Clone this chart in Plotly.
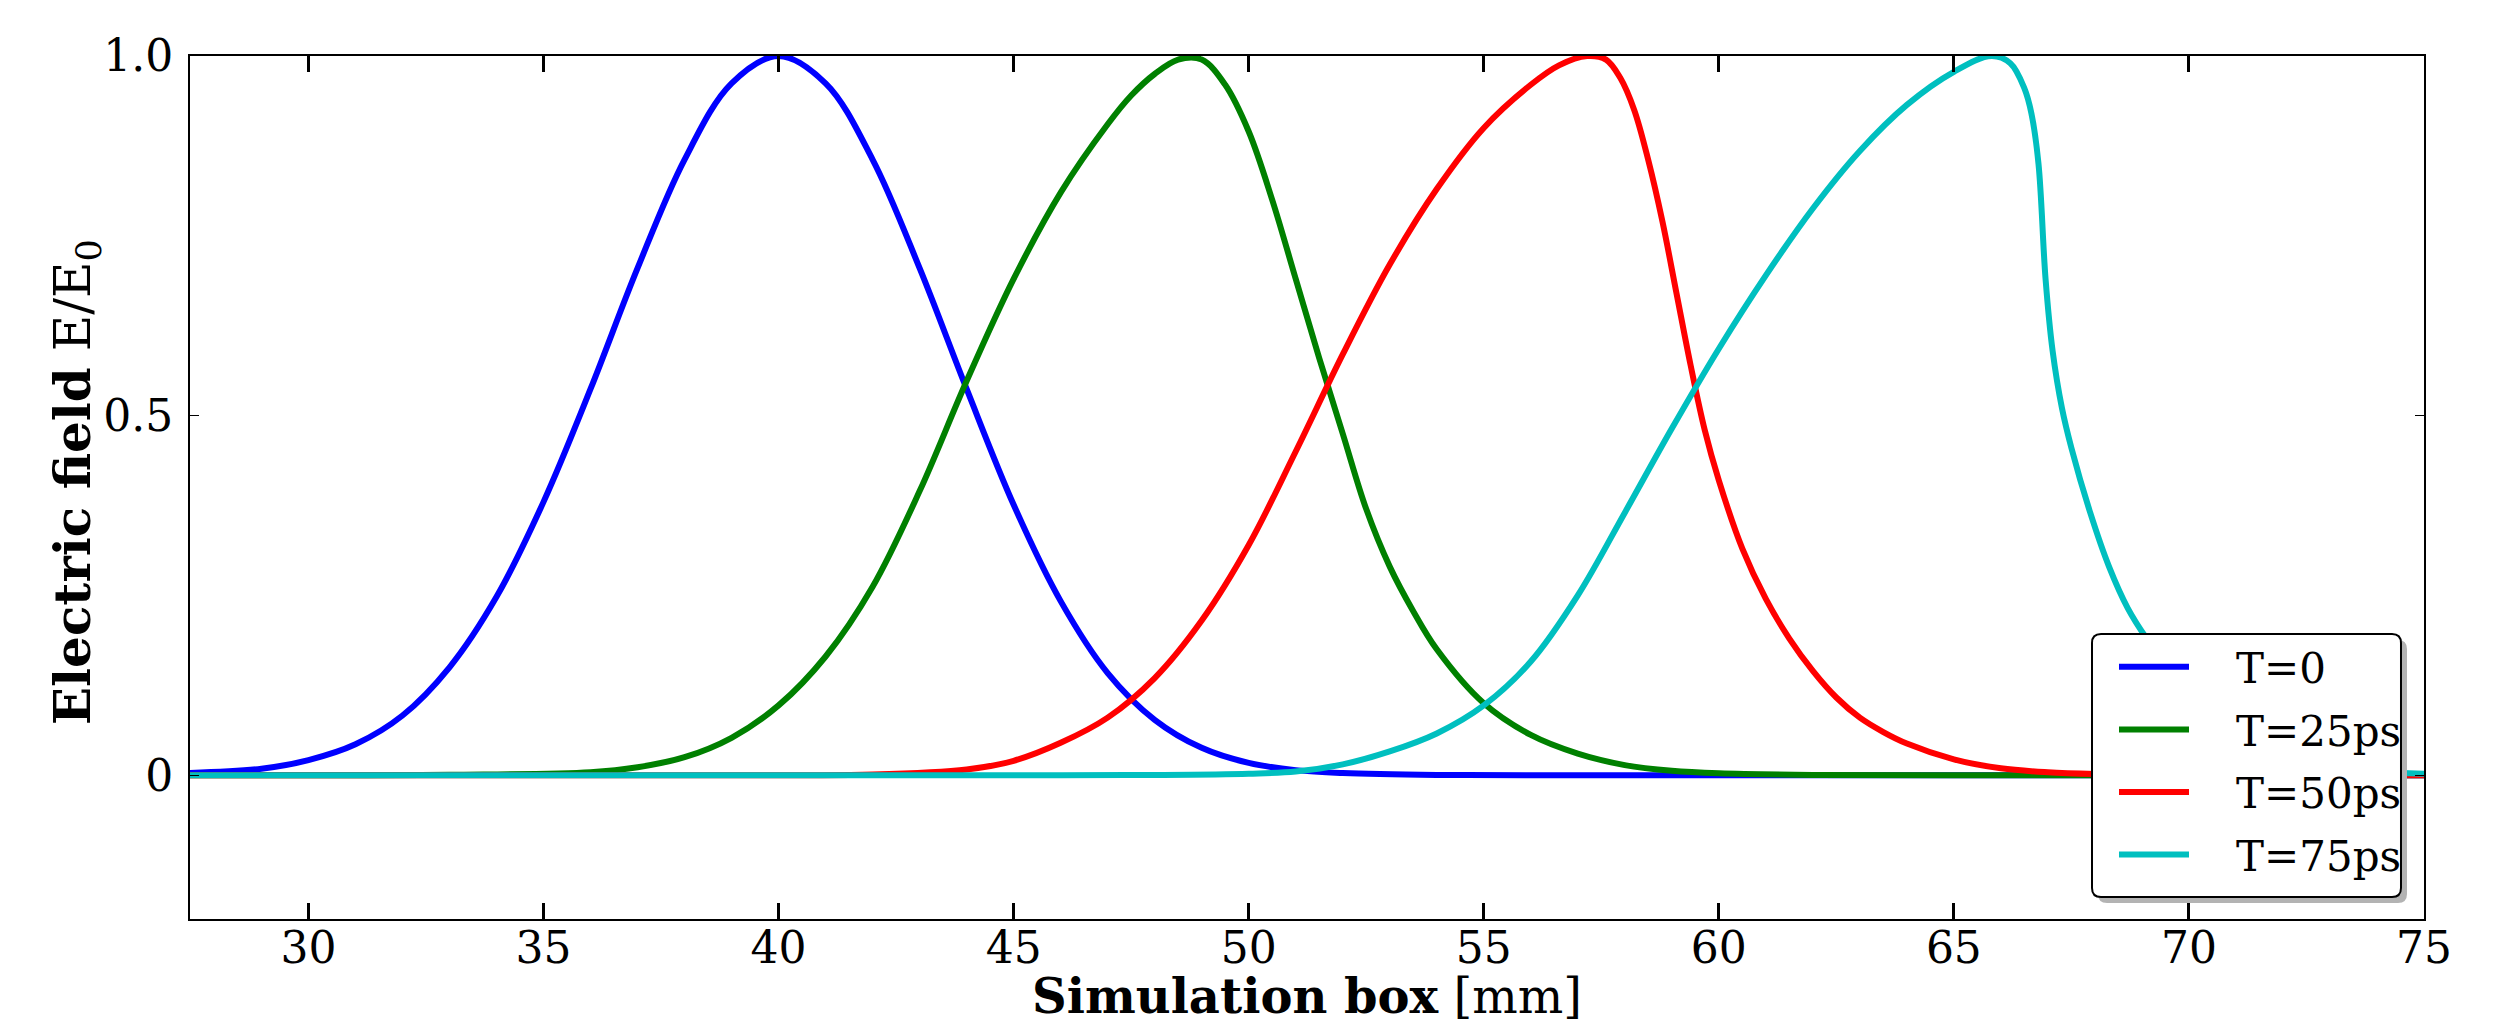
import plotly.graph_objects as go

# ---- data ----
x_t0 = [27.4, 29, 30, 31, 32, 33, 34, 35, 36, 37, 38, 39, 40, 41, 42, 43, 44, 45, 46, 47,
        48, 49, 50, 51, 52, 54, 56, 60, 65, 70, 75]
y_t0 = [0.003, 0.009, 0.021, 0.043, 0.083, 0.15, 0.248, 0.38, 0.537, 0.705, 0.856, 0.962, 1.0,
        0.962, 0.856, 0.705, 0.537, 0.376, 0.242, 0.142, 0.077, 0.038, 0.017, 0.007, 0.003,
        0.0004, 0.0, 0.0, 0.0, 0.0, 0.0]

x_t25 = [27.4, 33, 36, 37, 38, 39, 40, 41, 42, 43, 44, 45, 46, 47, 47.5, 48, 48.5, 49, 49.5,
         50, 50.5, 51, 51.5, 52, 52.5, 53, 53.5, 54, 55, 56, 57, 58, 59, 60, 62, 65, 70, 75]
y_t25 = [0.0, 0.0005, 0.004, 0.011, 0.025, 0.052, 0.097, 0.165, 0.262, 0.395, 0.548, 0.69,
         0.81, 0.905, 0.945, 0.975, 0.995, 0.995, 0.96, 0.895, 0.80, 0.69, 0.58, 0.475,
         0.37, 0.29, 0.228, 0.175, 0.10, 0.056, 0.03, 0.014, 0.006, 0.0025, 0.0003, 0.0, 0.0,
         0.0]

x_t50 = [27.4, 40, 42, 44, 45, 46, 47, 48, 49, 50, 51, 52, 53, 54, 55, 56, 56.6, 57.2, 57.6,
         57.9, 58.2, 58.5, 58.8, 59.1, 59.4, 59.7, 60.0, 60.5, 61, 61.5, 62, 62.5, 63, 63.5,
         64, 65, 66, 67, 68, 69, 70, 75]
y_t50 = [0.0, 0.0, 0.0008, 0.008, 0.02, 0.045, 0.08, 0.135, 0.215, 0.32, 0.45, 0.585, 0.71,
         0.815, 0.90, 0.96, 0.987, 1.0, 0.995, 0.97, 0.925, 0.855, 0.77, 0.67, 0.57, 0.48,
         0.41, 0.315, 0.245, 0.19, 0.145, 0.108, 0.08, 0.06, 0.044, 0.022, 0.0095, 0.004,
         0.0015, 0.0005, 0.0, 0.0]

x_t75 = [27.4, 46, 48, 50, 51, 52, 53, 54, 55, 56, 57, 58, 59, 60, 61, 62, 63, 64, 65, 65.8,
         66.2, 66.5, 66.65, 66.8, 66.95, 67.1, 67.3, 67.5, 67.9, 68.3, 68.7, 69.1, 69.5, 70,
         71, 72, 73, 74, 75]
y_t75 = [0.0, 0.0, 0.0003, 0.002, 0.005, 0.015, 0.033, 0.058, 0.097, 0.158, 0.25, 0.365,
         0.482, 0.593, 0.695, 0.788, 0.868, 0.932, 0.978, 1.0, 0.99, 0.955, 0.92, 0.85, 0.69,
         0.59, 0.51, 0.455, 0.365, 0.29, 0.232, 0.19, 0.155, 0.115, 0.06, 0.028, 0.012, 0.005,
         0.002]

series_names = ["T=0", "T=25ps", "T=50ps", "T=75ps"]
series_colors = ["#0000ff", "#008000", "#ff0000", "#00bfbf"]

x_ticks = [30, 35, 40, 45, 50, 55, 60, 65, 70, 75]
y_ticks = [0, 0.5, 1.0]
y_tick_text = ["0", "0.5", "1.0"]

FONT = "DejaVu Serif"
GAP = "\u2002\u2002"  # visual gap between legend line sample and its label

fig = go.Figure()
for name, color, xs, ys in zip(series_names, series_colors,
                               [x_t0, x_t25, x_t50, x_t75],
                               [y_t0, y_t25, y_t50, y_t75]):
    fig.add_trace(go.Scatter(x=xs, y=ys, mode="lines", name=GAP + name, legendgroup=name,
                             line=dict(color=color, width=6, shape="spline", smoothing=1.0)))

# page body has an 8px margin: figure coords = screen coords - 8
OFF = 8
W, H = 2507 - OFF, 1024 - OFF
SL, SR, ST, SB = 190, 2424, 56, 919          # plot area in screen pixels
L, R, T, B = SL - OFF, SR - OFF, ST - OFF, SB - OFF
pw, ph = R - L, B - T


def scr2paper(sx, sy):
    return (sx - OFF - L) / pw, (B - (sy - OFF)) / ph


def rounded_rect(x0, y0, x1, y1, r):
    def P(a, b):
        u, v = scr2paper(a, b)
        return f"{u:.5f},{v:.5f}"
    return (f"M{P(x0 + r, y0)} L{P(x1 - r, y0)} Q{P(x1, y0)} {P(x1, y0 + r)} "
            f"L{P(x1, y1 - r)} Q{P(x1, y1)} {P(x1 - r, y1)} L{P(x0 + r, y1)} "
            f"Q{P(x0, y1)} {P(x0, y1 - r)} L{P(x0, y0 + r)} Q{P(x0, y0)} {P(x0 + r, y0)} Z")


bx0, by0, bx1, by1 = 2092, 634, 2401, 897
fig.add_shape(type="path", xref="paper", yref="paper", layer="above",
              path=rounded_rect(bx0 + 6, by0 + 6, bx1 + 6, by1 + 6, 9),
              fillcolor="#b3b3b3", line=dict(width=0))
fig.add_shape(type="path", xref="paper", yref="paper", layer="above",
              path=rounded_rect(bx0, by0, bx1, by1, 9),
              fillcolor="white", line=dict(color="black", width=2))

lx, ly = scr2paper(2114, 633)
tx, ty = scr2paper(76, 482)

fig.add_annotation(text="<b>Electric field</b> E/E<sub>0</sub>", xref="paper", yref="paper",
                   x=tx, y=ty, xanchor="center", yanchor="middle", textangle=-90,
                   showarrow=False, font=dict(family=FONT, size=50, color="black"))

fig.update_layout(
    width=W, height=H,
    margin=dict(l=L, r=W - R, t=T, b=H - B, autoexpand=False),
    paper_bgcolor="white", plot_bgcolor="white",
    font=dict(family=FONT, color="black"),
    showlegend=True,
    legend=dict(x=lx, y=ly, xanchor="left", yanchor="top", bgcolor="rgba(0,0,0,0)",
                borderwidth=0, font=dict(family=FONT, size=42), itemwidth=70,
                tracegroupgap=5),
    xaxis=dict(range=[27.48, 75.0], tickmode="array", tickvals=x_ticks, automargin=False,
               ticks="inside", ticklen=16, tickwidth=2.5, tickcolor="black",
               showline=True, linecolor="black", linewidth=2, mirror="ticks",
               showgrid=False, zeroline=False, ticklabelstandoff=-11,
               tickfont=dict(family=FONT, size=44),
               title=dict(text="<b>Simulation box</b> [mm]",
                          font=dict(family=FONT, size=48), standoff=3)),
    yaxis=dict(range=[-0.2, 1.0], tickmode="array", tickvals=y_ticks, ticktext=y_tick_text,
               automargin=False,
               ticks="inside", ticklen=9, tickwidth=1.2, tickcolor="black",
               showline=True, linecolor="black", linewidth=2, mirror="ticks",
               showgrid=False, zeroline=False, ticklabelstandoff=6,
               tickfont=dict(family=FONT, size=44)),
)

fig.write_html("out.html")
